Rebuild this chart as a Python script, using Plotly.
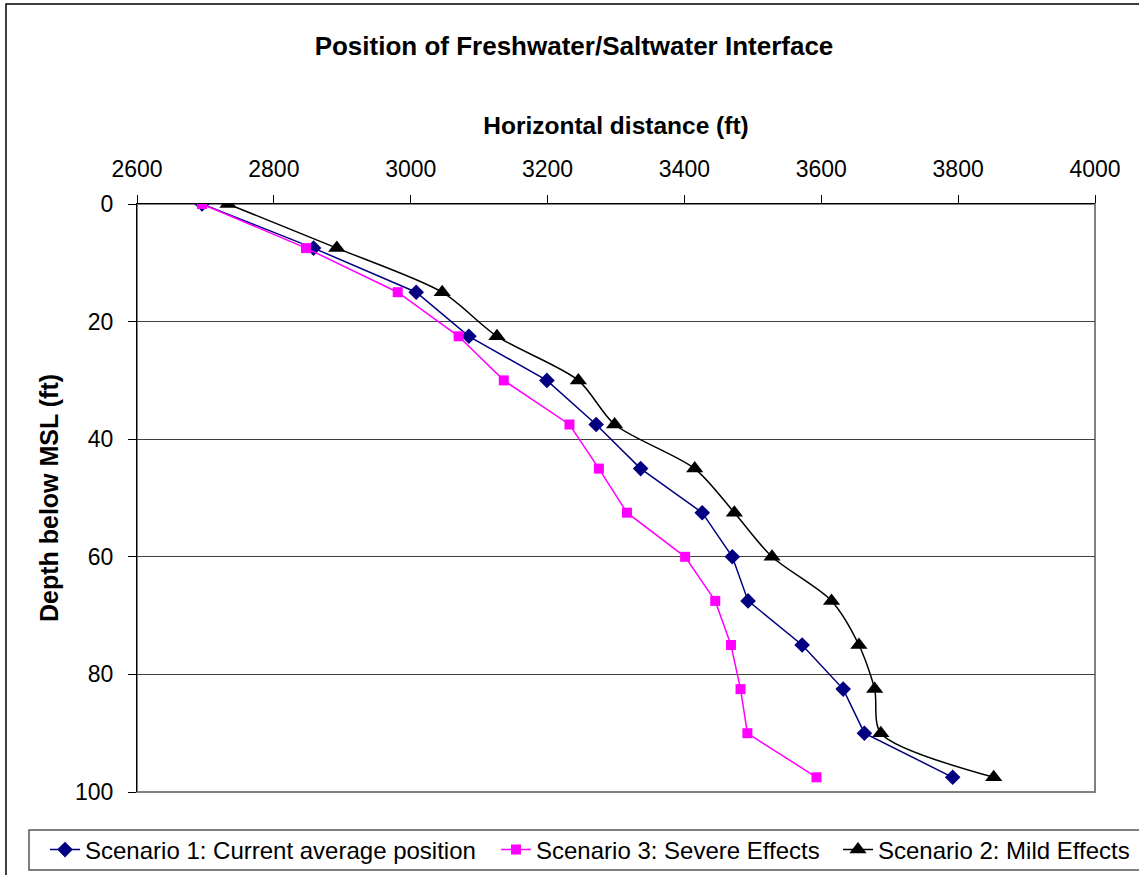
import plotly.graph_objects as go

# ---- data ----
depth = [0, 7.5, 15, 22.5, 30, 37.5, 45, 52.5, 60, 67.5, 75, 82.5, 90, 97.5]
scenario1 = [2695, 2858, 3008, 3085, 3199, 3271, 3336, 3426, 3470, 3493, 3572, 3632, 3663, 3792]
scenario3 = [2695, 2847, 2981, 3070, 3136, 3232, 3275, 3316, 3401, 3445, 3468, 3482, 3492, 3593]
scenario2 = [2733, 2892, 3046, 3126, 3245, 3298, 3415, 3473, 3528, 3615, 3655, 3678, 3687, 3852]
names = ["Scenario 1: Current average position", "Scenario 3: Severe Effects", "Scenario 2: Mild Effects"]
x_ticks = [2600, 2800, 3000, 3200, 3400, 3600, 3800, 4000]
y_ticks = [0, 20, 40, 60, 80, 100]

W, H = 1139, 875
L, R, T, B = 137, 1095, 204, 792
FONT = "Liberation Sans, Arial, sans-serif"

def px_x(p):
    return (p - L) / (R - L)

def px_y(p):
    return (B - p) / (B - T)

fig = go.Figure()
fig.add_trace(go.Scatter(
    x=scenario1, y=depth, name=names[0], mode="lines+markers",
    line=dict(color="#000080", width=1.5),
    marker=dict(symbol="diamond", size=12, color="#000080"),
    legend="legend"))
fig.add_trace(go.Scatter(
    x=scenario3, y=depth, name=names[1], mode="lines+markers",
    line=dict(color="#FF00FF", width=1.5),
    marker=dict(symbol="square", size=10, color="#FF00FF"),
    legend="legend2"))
fig.add_trace(go.Scatter(
    x=scenario2, y=depth, name=names[2], mode="lines+markers",
    line=dict(color="#000000", width=1.5, shape="spline", smoothing=0.8),
    marker=dict(symbol="triangle-up", size=15, color="#000000"),
    legend="legend3"))

leg_common = dict(xref="container", yref="container", xanchor="left", yanchor="middle",
                  y=1 - 850 / H, orientation="h", bgcolor="rgba(0,0,0,0)", borderwidth=0,
                  font=dict(family=FONT, size=24, color="#000000"))

fig.update_layout(
    width=W, height=H,
    margin=dict(l=L, r=W - R, t=T, b=H - B, pad=0),
    paper_bgcolor="white", plot_bgcolor="white",
    font=dict(family=FONT, color="#000000"),
    title=dict(text="<b>Position of Freshwater/Saltwater Interface</b>",
               xref="container", yref="container", x=574 / W, y=1 - 46 / H,
               xanchor="center", yanchor="middle",
               font=dict(family=FONT, size=26, color="#000000")),
    showlegend=True,
    legend=dict(leg_common, x=(90 - 45) / W),
    legend2=dict(leg_common, x=(541 - 45) / W),
    legend3=dict(leg_common, x=(883 - 45) / W),
    xaxis=dict(side="top", range=[2600, 4000], tickvals=x_ticks,
               ticktext=[str(v) for v in x_ticks],
               ticks="outside", ticklen=8, tickwidth=1, tickcolor="#000000",
               showline=True, linecolor="#000000", linewidth=1,
               showgrid=False, zeroline=False,
               tickfont=dict(family=FONT, size=23, color="#000000"),
               ticklabelstandoff=9,
               title=dict(text="<b>Horizontal distance (ft)</b>", standoff=14,
                          font=dict(family=FONT, size=24.5, color="#000000"))),
    yaxis=dict(range=[100, 0], tickvals=y_ticks, ticktext=[str(v) for v in y_ticks],
               ticks="outside", ticklen=8, tickwidth=1, tickcolor="#000000",
               showline=True, linecolor="#000000", linewidth=1,
               showgrid=True, gridcolor="#404040", gridwidth=1, zeroline=False,
               tickfont=dict(family=FONT, size=23, color="#000000"),
               ticklabelstandoff=10,
               title=dict(text="<b>Depth below MSL (ft)</b>", standoff=9,
                          font=dict(family=FONT, size=25, color="#000000"))),
)

# plot-area frame (gray right/bottom), chart outer border, legend box
fig.add_shape(type="rect", xref="paper", yref="paper", x0=0, x1=1, y0=0, y1=1,
              line=dict(color="#808080", width=2), layer="below")
fig.add_shape(type="rect", xref="paper", yref="paper",
              x0=px_x(6), x1=px_x(W + 10), y0=px_y(H + 10), y1=px_y(4),
              line=dict(color="#000000", width=1.5), layer="below")
fig.add_shape(type="rect", xref="paper", yref="paper",
              x0=px_x(29), x1=px_x(W + 10), y0=px_y(870), y1=px_y(830),
              line=dict(color="#555555", width=1.5), layer="below")

fig.write_html("out.html")
